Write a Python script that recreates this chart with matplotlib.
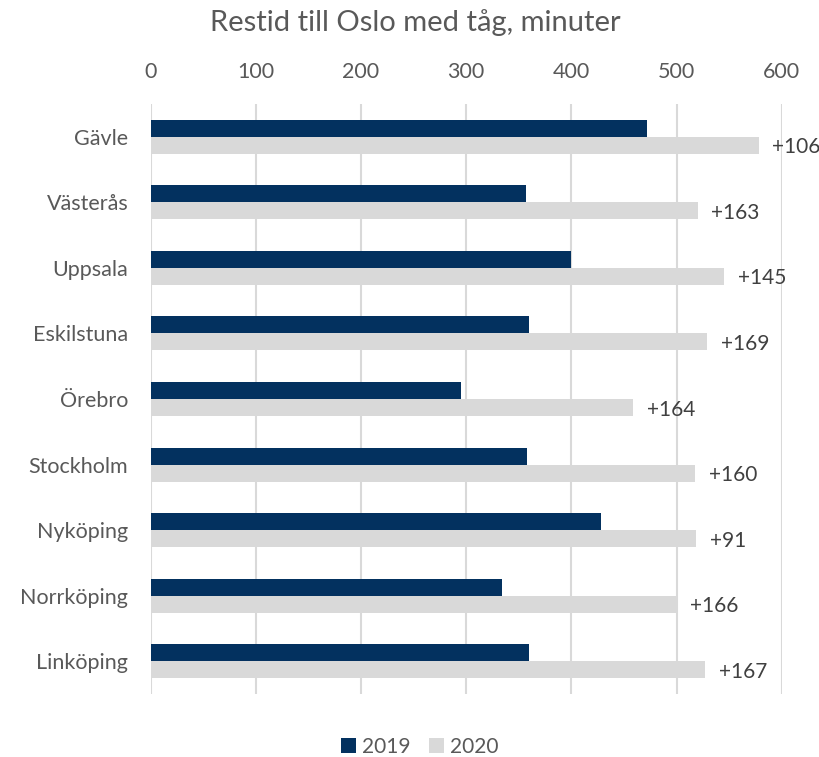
import matplotlib
matplotlib.use("Agg")
import matplotlib.pyplot as plt
import numpy as np

plt.rcParams['font.family'] = ['Lato', 'DejaVu Sans']

categories = ["Gävle", "Västerås", "Uppsala", "Eskilstuna", "Örebro",
              "Stockholm", "Nyköping", "Norrköping", "Linköping"]
values_2019 = [472, 357, 400, 360, 295, 358, 428, 334, 360]
values_2020 = [578, 520, 545, 529, 459, 518, 519, 500, 527]
diff_labels = ["+106", "+163", "+145", "+169", "+164", "+160", "+91", "+166", "+167"]
series_names = ["2019", "2020"]
xticks = [0, 100, 200, 300, 400, 500, 600]

navy = "#03315F"
grey = "#D9D9D9"
txt = "#595959"

fig = plt.figure(figsize=(8.19, 7.57), dpi=100)
ax = fig.add_axes([150.5/819, 1-694/757, (781.7-150.5)/819, (694-104)/757])

y = np.arange(len(categories))
h = 0.26
ax.barh(y - h/2, values_2019, height=h, color=navy, label=series_names[0], zorder=3)
ax.barh(y + h/2, values_2020, height=h, color=grey, label=series_names[1], zorder=3)

for yi, v, lab in zip(y, values_2020, diff_labels):
    ax.annotate(lab, xy=(v, yi + h/2), xytext=(10, -1.5), textcoords="offset points",
                ha="left", va="center", fontsize=15, color="#404040",
                annotation_clip=False)

ax.set_ylim(len(categories) - 0.5, -0.5)
ax.set_xlim(0, 600)
ax.set_xticks(xticks)
ax.set_yticks(y)
ax.set_yticklabels(categories)
ax.xaxis.tick_top()
ax.tick_params(axis="both", length=0, labelsize=15.5, labelcolor=txt)
ax.tick_params(axis="x", pad=16)
ax.tick_params(axis="y", pad=16)
ax.grid(axis="x", color="#D9D9D9", linewidth=1.5, zorder=0)
for s in ax.spines.values():
    s.set_visible(False)

fig.text(415/819, 1-23/757, "Restid till Oslo med tåg, minuter", ha="center", va="center",
         fontsize=21, color=txt)

leg = fig.legend(loc="center", bbox_to_anchor=(420/819, 1-747/757), ncol=2, frameon=False,
                 fontsize=15, handlelength=0.7, handleheight=0.7, handletextpad=0.3,
                 columnspacing=0.9)
for t in leg.get_texts():
    t.set_color(txt)

fig.savefig("out.png", dpi=100)
